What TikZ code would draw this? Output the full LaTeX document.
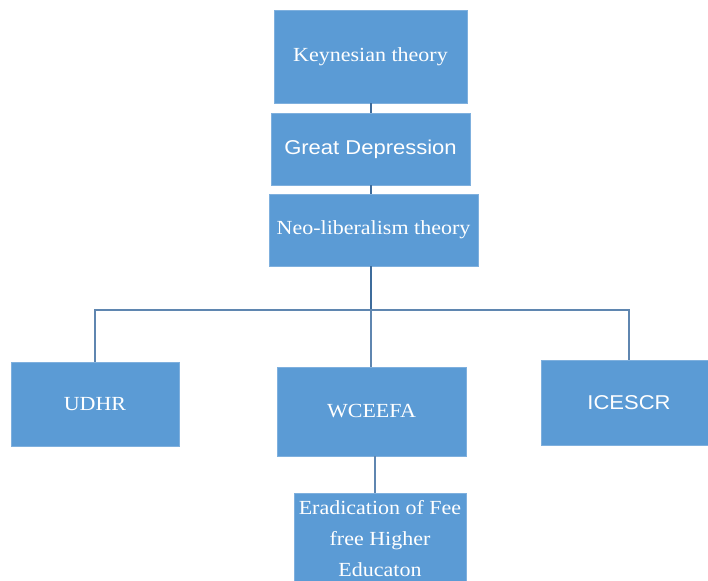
\documentclass[tikz,border=0pt]{standalone}
\usepackage{fontspec}
\setmainfont[FakeStretch=1.1]{Liberation Serif}
\setsansfont[FakeStretch=1.1]{Liberation Sans}
\usepackage{tikz}
\usetikzlibrary{positioning, calc}
\definecolor{boxblue}{HTML}{5B9BD5}
\definecolor{rimblue}{HTML}{7FB0DE}
\definecolor{linkblue}{HTML}{5F86B0}
\definecolor{trunkblue}{HTML}{3E6C9C}

\begin{document}
\begin{tikzpicture}[x=1pt,y=-1pt,
		box/.style={draw=rimblue, line width=0.8pt, fill=boxblue, text=white, inner sep=0pt, align=center, font=\fontsize{20}{31}\selectfont},
		link/.style={draw=linkblue, line width=1.2pt},
		trunk/.style={draw=trunkblue, line width=2pt}]
	\useasboundingbox (0,0) rectangle (708,580);
	\clip (0,0) rectangle (708,580);
	\node[box, minimum width=193pt, minimum height=93pt] (keynes) at (370.5,56.5) {Keynesian theory};
	\node[box, minimum width=199pt, minimum height=72pt, font=\sffamily\fontsize{20}{24}\selectfont] (depression) at (370.5,149) {Great Depression};
	\node[box, minimum width=209pt, minimum height=72pt] (neolib) at (373.5,230) {Neo-liberalism theory};
	\node[box, minimum width=168pt, minimum height=84pt] (udhr) at (95,404) {UDHR};
	\node[box, minimum width=189pt, minimum height=89pt] (wceefa) at (371.5,411.5) {WCEEFA};
	\node[box, minimum width=176pt, minimum height=85pt, font=\sffamily\fontsize{20}{24}\selectfont] (icescr) at (629,403) {ICESCR};
	\node[box, minimum width=172pt, minimum height=90pt, anchor=north] (fee) at (380,493) {Eradication of Fee\\free Higher\\Educaton};
	\coordinate (hub) at (371,310);
	\draw[trunk] (hub |- keynes.south) -- (hub |- depression.north);
	\draw[trunk] (hub |- depression.south) -- (hub |- neolib.north);
	\draw[trunk] (hub |- neolib.south) -- (hub);
	\draw[link] (hub) -- (hub |- wceefa.north);
	\draw[link] (udhr.north) |- (hub) -| (icescr.north);
	\draw[link] ([xshift=-5pt]fee.north |- wceefa.south) -- ([xshift=-5pt]fee.north);
\end{tikzpicture}
\end{document}
